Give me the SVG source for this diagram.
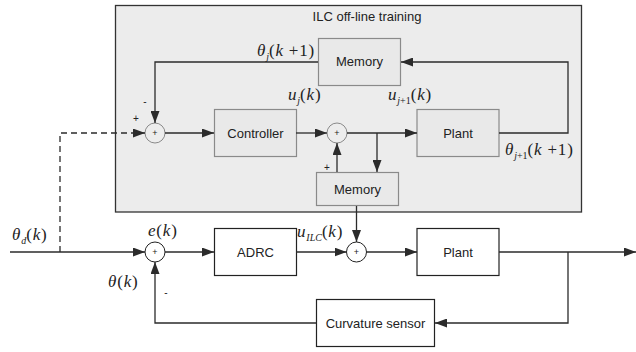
<svg xmlns="http://www.w3.org/2000/svg" width="636" height="352" viewBox="0 0 636 352">
<style>
.region{fill:#ececec;stroke:#333;stroke-width:1.3}
.ibox{fill:#e9e9e9;stroke:#8a8a8a;stroke-width:1.2}
.obox{fill:#fff;stroke:#222;stroke-width:1.2}
.isum{fill:#ededed;stroke:#8a8a8a;stroke-width:1}
.osum{fill:#fff;stroke:#222;stroke-width:1}
.lbl{font-family:"Liberation Sans",Arial,sans-serif;font-size:13px;fill:#222;text-anchor:middle}
.plus{font-family:"Liberation Sans",Arial,sans-serif;font-size:9px;fill:#222;text-anchor:middle}
.sign{font-family:"Liberation Sans",Arial,sans-serif;font-size:10px;fill:#222;text-anchor:middle}
.m{font-family:"Liberation Serif","Times New Roman",serif;font-size:17px;fill:#222;letter-spacing:0.8px}
.i{font-style:italic}
.s{font-size:10px;letter-spacing:0}
.w{fill:none;stroke:#2b2b2b;stroke-width:1.3}
.d{stroke-dasharray:6,4}
</style>
<defs>
<marker id="ah" viewBox="0 0 12 9" refX="12" refY="4.5" markerWidth="12" markerHeight="9" markerUnits="userSpaceOnUse" orient="auto">
<path d="M0,0 L12,4.5 L0,9 z" fill="#2b2b2b"/>
</marker>
</defs>
<g id="ilc-region">
<rect class="region" x="115.5" y="5.5" width="466" height="206.5"/>
<text class="lbl" x="367" y="21">ILC off-line training</text>
</g>
<g id="memory-top">
<rect class="ibox" x="318.5" y="38.5" width="82" height="47"/>
<text class="lbl" x="359.5" y="66">Memory</text>
</g>
<g id="controller">
<rect class="ibox" x="214.5" y="109.5" width="82" height="47"/>
<text class="lbl" x="255.5" y="137.5">Controller</text>
</g>
<g id="plant-ilc">
<rect class="ibox" x="417" y="109.5" width="82" height="47"/>
<text class="lbl" x="458" y="137.5">Plant</text>
</g>
<g id="memory-bottom">
<rect class="ibox" x="316.5" y="172.5" width="82" height="33"/>
<text class="lbl" x="357.5" y="193.5">Memory</text>
</g>
<g id="sum-ilc-1">
<circle class="isum" cx="155" cy="133" r="10"/>
<text class="plus" x="155" y="136">+</text>
</g>
<g id="sum-ilc-2">
<circle class="isum" cx="337" cy="133" r="10"/>
<text class="plus" x="337" y="136">+</text>
</g>
<g id="adrc">
<rect class="obox" x="214.5" y="228.5" width="82" height="47"/>
<text class="lbl" x="255.5" y="256.5">ADRC</text>
</g>
<g id="plant">
<rect class="obox" x="417" y="228.5" width="82" height="47"/>
<text class="lbl" x="458" y="256.5">Plant</text>
</g>
<g id="curvature-sensor">
<rect class="obox" x="316.5" y="299.5" width="118" height="47"/>
<text class="lbl" x="375.5" y="327.5">Curvature sensor</text>
</g>
<g id="sum-main-1">
<circle class="osum" cx="155" cy="252" r="10"/>
<text class="plus" x="155" y="255">+</text>
</g>
<g id="sum-main-2">
<circle class="osum" cx="356.5" cy="252" r="10"/>
<text class="plus" x="356.5" y="255">+</text>
</g>
<g id="connectors">
<path class="w" d="M318,62 H155 V123" marker-end="url(#ah)"/>
<path class="w d" d="M60,252 V133 H145" marker-end="url(#ah)"/>
<path class="w" d="M165,133 H214" marker-end="url(#ah)"/>
<path class="w" d="M296,133 H327" marker-end="url(#ah)"/>
<path class="w" d="M347,133 H417" marker-end="url(#ah)"/>
<path class="w" d="M377,133 V172" marker-end="url(#ah)"/>
<path class="w" d="M337,172 V143" marker-end="url(#ah)"/>
<path class="w" d="M499,133 H568 V62 H401" marker-end="url(#ah)"/>
<path class="w" d="M356.5,206 V242" marker-end="url(#ah)"/>
<path class="w" d="M10,252 H145" marker-end="url(#ah)"/>
<path class="w" d="M165,252 H214" marker-end="url(#ah)"/>
<path class="w" d="M296,252 H346.5" marker-end="url(#ah)"/>
<path class="w" d="M366.5,252 H417" marker-end="url(#ah)"/>
<path class="w" d="M499,252 H636" marker-end="url(#ah)"/>
<path class="w" d="M568,252 V323 H435" marker-end="url(#ah)"/>
<path class="w" d="M316,323 H155 V262" marker-end="url(#ah)"/>
</g>
<g id="labels">
<text class="m" x="257" y="56"><tspan class="i">θ</tspan><tspan class="i s" dy="4">j</tspan><tspan dy="-4">(</tspan><tspan class="i">k</tspan><tspan> +1)</tspan></text>
<text class="m" x="288" y="100"><tspan class="i">u</tspan><tspan class="i s" dy="4">j</tspan><tspan dy="-4">(</tspan><tspan class="i">k</tspan><tspan>)</tspan></text>
<text class="m" x="388" y="100"><tspan class="i">u</tspan><tspan class="s" dy="4"><tspan class="i">j</tspan>+1</tspan><tspan dy="-4">(</tspan><tspan class="i">k</tspan><tspan>)</tspan></text>
<text class="m" x="505" y="155"><tspan class="i">θ</tspan><tspan class="s" dy="4"><tspan class="i">j</tspan>+1</tspan><tspan dy="-4">(</tspan><tspan class="i">k</tspan><tspan> +1)</tspan></text>
<text class="m" x="12" y="240"><tspan class="i">θ</tspan><tspan class="i s" dy="4">d</tspan><tspan dy="-4">(</tspan><tspan class="i">k</tspan><tspan>)</tspan></text>
<text class="m" x="148" y="236"><tspan class="i">e</tspan><tspan>(</tspan><tspan class="i">k</tspan><tspan>)</tspan></text>
<text class="m" x="108" y="287"><tspan class="i">θ</tspan><tspan>(</tspan><tspan class="i">k</tspan><tspan>)</tspan></text>
<text class="m" x="297" y="237"><tspan class="i">u</tspan><tspan class="i s" dy="4">ILC</tspan><tspan dy="-4">(</tspan><tspan class="i">k</tspan><tspan>)</tspan></text>
<text class="sign" x="136" y="122">+</text>
<text class="sign" x="145" y="105">-</text>
<text class="sign" x="327" y="171">+</text>
<text class="sign" x="166" y="296">-</text>
</g>
</svg>
